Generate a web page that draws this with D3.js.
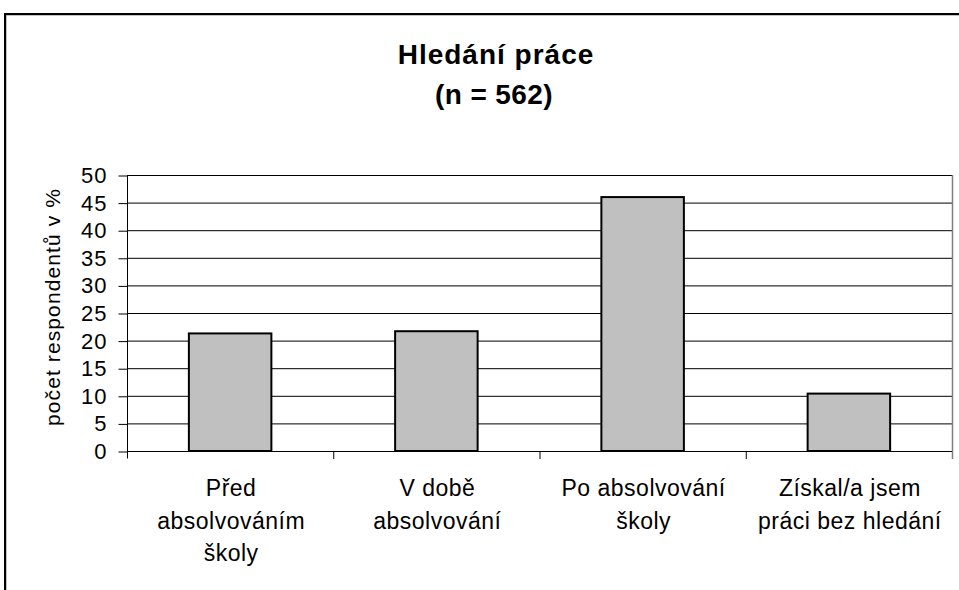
<!DOCTYPE html>
<html>
<head>
<meta charset="utf-8">
<script src="https://cdn.jsdelivr.net/npm/d3@7"></script>
<style>
  html, body { margin: 0; padding: 0; background: #fff; }
  svg { display: block; font-family: "Liberation Sans", Arial, sans-serif; }
</style>
</head>
<body>
<svg id="chart" width="959" height="590"></svg>
<script>
// ---- data ----
const categories = ["Před absolvováním školy", "V době absolvování", "Po absolvování školy", "Získal/a jsem práci bez hledání"];
const categoryLines = [
  ["Před", "absolvováním", "školy"],
  ["V době", "absolvování"],
  ["Po absolvování", "školy"],
  ["Získal/a jsem", "práci bez hledání"]
];
const values = [21.3, 21.7, 46.0, 10.4];
const yTicks = [0, 5, 10, 15, 20, 25, 30, 35, 40, 45, 50];
const titleLines = ["Hledání práce", "(n = 562)"];
const yLabel = "počet respondentů v %";

// ---- layout ----
const svg = d3.select("#chart");
const plot = { left: 127, right: 952, top: 175, bottom: 451 };

// outer chart border
svg.append("path")
  .attr("d", `M5,600 L5,14 L970,14`)
  .attr("fill", "none").attr("stroke", "#888").attr("stroke-width", 1).attr("transform", "translate(1,1)");
svg.append("path")
  .attr("d", `M5,600 L5,14 L970,14`)
  .attr("fill", "none").attr("stroke", "#000").attr("stroke-width", 2);

const x = d3.scaleBand().domain(categories).range([plot.left, plot.right]).padding(0);
const y = d3.scaleLinear().domain([0, 50]).range([plot.bottom, plot.top]);

// gridlines
svg.append("g").selectAll("line").data(yTicks.filter(d => d > 0)).join("line")
  .attr("x1", plot.left).attr("x2", plot.right)
  .attr("y1", d => y(d) + 0.5).attr("y2", d => y(d) + 0.5)
  .attr("stroke", "#000").attr("stroke-width", 1);

// right plot border
svg.append("line")
  .attr("x1", plot.right + 0.5).attr("x2", plot.right + 0.5)
  .attr("y1", plot.top).attr("y2", plot.bottom + 8)
  .attr("stroke", "#808080").attr("stroke-width", 1.5);

// bars
const barW = x.bandwidth() * 0.4;
svg.append("g").selectAll("rect").data(values).join("rect")
  .attr("x", (d, i) => x(categories[i]) + (x.bandwidth() - barW) / 2)
  .attr("y", d => y(d))
  .attr("width", barW)
  .attr("height", d => y(0) - y(d))
  .attr("fill", "#c0c0c0")
  .attr("stroke", "#000").attr("stroke-width", 2);

// y axis
const yAxis = d3.axisLeft(y).tickValues(yTicks).tickSize(9).tickPadding(11).tickFormat(d3.format("d"));
const gy = svg.append("g").attr("transform", `translate(${plot.left + 0.5},0.5)`).call(yAxis);
gy.select(".domain").attr("d", `M0,${plot.top}V${plot.bottom + 7}`).attr("stroke", "#000");
gy.selectAll(".tick line").attr("stroke", "#000");
gy.selectAll(".tick text")
  .attr("font-size", 22).attr("fill", "#000")
  .style("letter-spacing", "1px")
  .attr("font-family", "'Liberation Sans', Arial, sans-serif");

// x axis
const xAxis = d3.axisBottom(x).tickSize(0).tickFormat("");
const gx = svg.append("g").attr("transform", `translate(0,${plot.bottom + 0.5})`).call(xAxis);
gx.select(".domain").attr("stroke", "#000").attr("d", `M${plot.left},0H${plot.right}`);
// category separators
svg.append("g").selectAll("line").data(categories.slice(1)).join("line")
  .attr("x1", d => x(d) + 0.5).attr("x2", d => x(d) + 0.5)
  .attr("y1", plot.bottom).attr("y2", plot.bottom + 8)
  .attr("stroke", "#000").attr("stroke-width", 1);

// category labels
const lab = svg.append("g");
categories.forEach((c, i) => {
  const cx = x(c) + x.bandwidth() / 2 + 1;
  const t = lab.append("text")
    .attr("x", cx)
    .attr("y", 496)
    .attr("text-anchor", "middle")
    .attr("font-size", 23)
    .style("letter-spacing", "0.5px")
    .attr("fill", "#000");
  categoryLines[i].forEach((ln, j) => {
    t.append("tspan").attr("x", cx).attr("dy", j === 0 ? 0 : 32.5).text(ln);
  });
});

// y label
svg.append("text")
  .attr("transform", `translate(60,307) rotate(-90)`)
  .attr("text-anchor", "middle")
  .attr("font-size", 21)
  .style("letter-spacing", "1.1px")
  .attr("fill", "#000")
  .text(yLabel);

// title
svg.append("text")
  .attr("x", 496).attr("y", 64)
  .attr("text-anchor", "middle")
  .attr("font-size", 28).attr("font-weight", "bold")
  .style("letter-spacing", "1px")
  .text(titleLines[0]);
svg.append("text")
  .attr("x", 494).attr("y", 104)
  .attr("text-anchor", "middle")
  .attr("font-size", 28).attr("font-weight", "bold")
  .style("letter-spacing", "0.4px")
  .text(titleLines[1]);
</script>
</body>
</html>
